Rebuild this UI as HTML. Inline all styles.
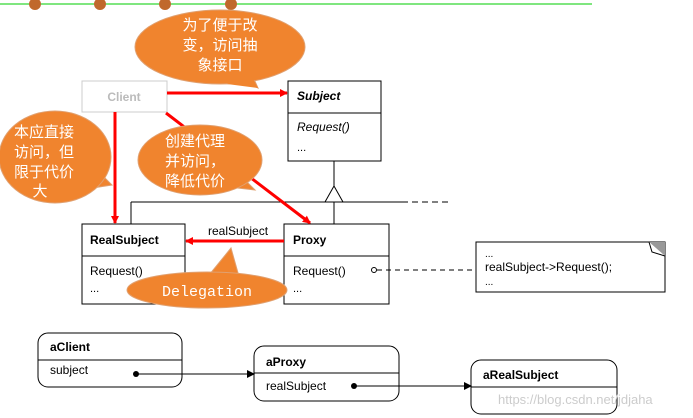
<!DOCTYPE html>
<html><head><meta charset="utf-8"><style>
html,body{margin:0;padding:0;background:#fff;width:693px;height:418px;overflow:hidden}
svg text{font-family:"Liberation Sans","Noto Sans CJK SC",sans-serif}
svg text.mono{font-family:"Liberation Mono",monospace}
.cj{font-family:"Liberation Sans","Noto Sans CJK SC",sans-serif;fill:#fff;font-size:15px}
</style></head><body>
<svg width="693" height="418" viewBox="0 0 693 418" xmlns="http://www.w3.org/2000/svg">
<defs>
<marker id="ra" markerWidth="8" markerHeight="8" refX="7" refY="4" orient="auto" markerUnits="userSpaceOnUse"><path d="M0,0 L8,4 L0,8 z" fill="#f00"/></marker>
<marker id="ba" markerWidth="8" markerHeight="8" refX="7" refY="4" orient="auto" markerUnits="userSpaceOnUse"><path d="M0,0 L8,4 L0,8 z" fill="#000"/></marker>
</defs>
<line x1="0" y1="4" x2="592" y2="4" stroke="#5d5" stroke-width="1.5"/>
<g fill="#c0692c"><circle cx="35" cy="4" r="6"/><circle cx="100" cy="4" r="6"/><circle cx="165" cy="4" r="6"/><circle cx="231" cy="4" r="6"/></g>

<line x1="131" y1="202" x2="402" y2="202" stroke="#000"/>
<line x1="402" y1="202" x2="449" y2="202" stroke="#000" stroke-dasharray="6,4"/>
<line x1="131" y1="202" x2="131" y2="224" stroke="#000"/>
<line x1="334" y1="161" x2="334" y2="224" stroke="#000"/>
<path d="M334,186 L325,202 L343,202 z" fill="#fff" stroke="#000"/>

<rect x="82" y="81" width="85" height="31" fill="#fff" stroke="#ccc"/>
<text x="124" y="101" font-size="12" font-weight="bold" fill="#bbb" text-anchor="middle">Client</text>
<rect x="288" y="81" width="93" height="80" fill="#fff" stroke="#000"/>
<line x1="288" y1="113" x2="381" y2="113" stroke="#000"/>
<text x="297" y="100" font-size="12" font-weight="bold" font-style="italic">Subject</text>
<text x="297" y="131" font-size="12" font-style="italic">Request()</text>
<text x="297" y="151" font-size="11">...</text>
<rect x="82" y="224" width="103" height="80" fill="#fff" stroke="#000"/>
<line x1="82" y1="256" x2="185" y2="256" stroke="#000"/>
<text x="90" y="244" font-size="12" font-weight="bold">RealSubject</text>
<text x="90" y="275" font-size="12">Request()</text>
<text x="90" y="292" font-size="11">...</text>
<rect x="284" y="224" width="105" height="80" fill="#fff" stroke="#000"/>
<line x1="284" y1="256" x2="389" y2="256" stroke="#000"/>
<text x="293" y="244" font-size="12" font-weight="bold">Proxy</text>
<text x="293" y="275" font-size="12">Request()</text>
<text x="293" y="292" font-size="11">...</text>
<circle cx="374" cy="270" r="2.5" fill="#fff" stroke="#000"/>
<line x1="377" y1="270" x2="476" y2="270" stroke="#000" stroke-dasharray="5,4"/>
<rect x="476" y="242" width="189" height="50" fill="#fff" stroke="#000"/>
<path d="M649,242 L665,242 L665,256 z" fill="#999"/>
<path d="M649,242 L652,252 L665,256" fill="#fff" stroke="#000"/>
<text x="485" y="257" font-size="10">...</text>
<text x="485" y="271" font-size="12">realSubject-&gt;Request();</text>
<text x="485" y="285" font-size="10">...</text>

<line x1="167" y1="93" x2="287" y2="93" stroke="#f00" stroke-width="3" marker-end="url(#ra)"/>
<line x1="115" y1="112" x2="115" y2="223" stroke="#f00" stroke-width="3" marker-end="url(#ra)"/>
<line x1="166" y1="113" x2="310" y2="223" stroke="#f00" stroke-width="3" marker-end="url(#ra)"/>
<line x1="284" y1="241" x2="186" y2="241" stroke="#f00" stroke-width="3" marker-end="url(#ra)"/>
<text x="208" y="235" font-size="12">realSubject</text>

<g fill="#f0842e" stroke="#e0a070" stroke-width="1">
<path d="M235,78 L258,88 L250,70 z"/>
<ellipse cx="220" cy="47" rx="85" ry="37"/>
<path d="M95,168 L112,185 L80,190 z"/>
<ellipse cx="55" cy="157" rx="56" ry="46"/>
<path d="M235,170 L255,190 L220,186 z"/>
<ellipse cx="200" cy="160" rx="62" ry="35"/>
<path d="M205,280 L231,248 L240,280 z"/>
<ellipse cx="207" cy="290" rx="80" ry="18"/>
</g>
<path d="M227,84 L258,88 L250,74" fill="#f0842e"/>
<text class="cj" x="220" y="30" text-anchor="middle">为了便于改</text>
<text class="cj" x="220" y="50" text-anchor="middle">变，访问抽</text>
<text class="cj" x="220" y="70" text-anchor="middle">象接口</text>
<text class="cj" x="44" y="137" text-anchor="middle">本应直接</text>
<text class="cj" x="44" y="157" text-anchor="middle">访问，但</text>
<text class="cj" x="44" y="177" text-anchor="middle">限于代价</text>
<text class="cj" x="40" y="196" text-anchor="middle">大</text>
<text class="cj" x="165" y="146">创建代理</text>
<text class="cj" x="165" y="166">并访问，</text>
<text class="cj" x="165" y="186">降低代价</text>
<text class="mono" x="207" y="296" font-size="15" fill="#fff" text-anchor="middle">Delegation</text>

<rect x="38" y="333" width="144" height="54" rx="10" fill="#fff" stroke="#000"/>
<line x1="38" y1="360" x2="182" y2="360" stroke="#000"/>
<text x="50" y="351" font-size="12" font-weight="bold">aClient</text>
<text x="50" y="374" font-size="12">subject</text>
<rect x="254" y="346" width="145" height="55" rx="10" fill="#fff" stroke="#000"/>
<line x1="254" y1="373" x2="399" y2="373" stroke="#000"/>
<text x="266" y="366" font-size="12" font-weight="bold">aProxy</text>
<text x="266" y="390" font-size="12">realSubject</text>
<rect x="471" y="360" width="146" height="54" rx="10" fill="#fff" stroke="#000"/>
<line x1="471" y1="387" x2="617" y2="387" stroke="#000"/>
<text x="483" y="379" font-size="12" font-weight="bold">aRealSubject</text>
<circle cx="136" cy="374" r="3" fill="#000"/>
<line x1="136" y1="374" x2="254" y2="374" stroke="#000" marker-end="url(#ba)"/>
<circle cx="354" cy="386" r="3" fill="#000"/>
<line x1="354" y1="386" x2="471" y2="386" stroke="#000" marker-end="url(#ba)"/>
<text x="498" y="404" font-size="13" fill="#ccc">https://blog.csdn.net/jdjaha</text>
</svg>
</body></html>
